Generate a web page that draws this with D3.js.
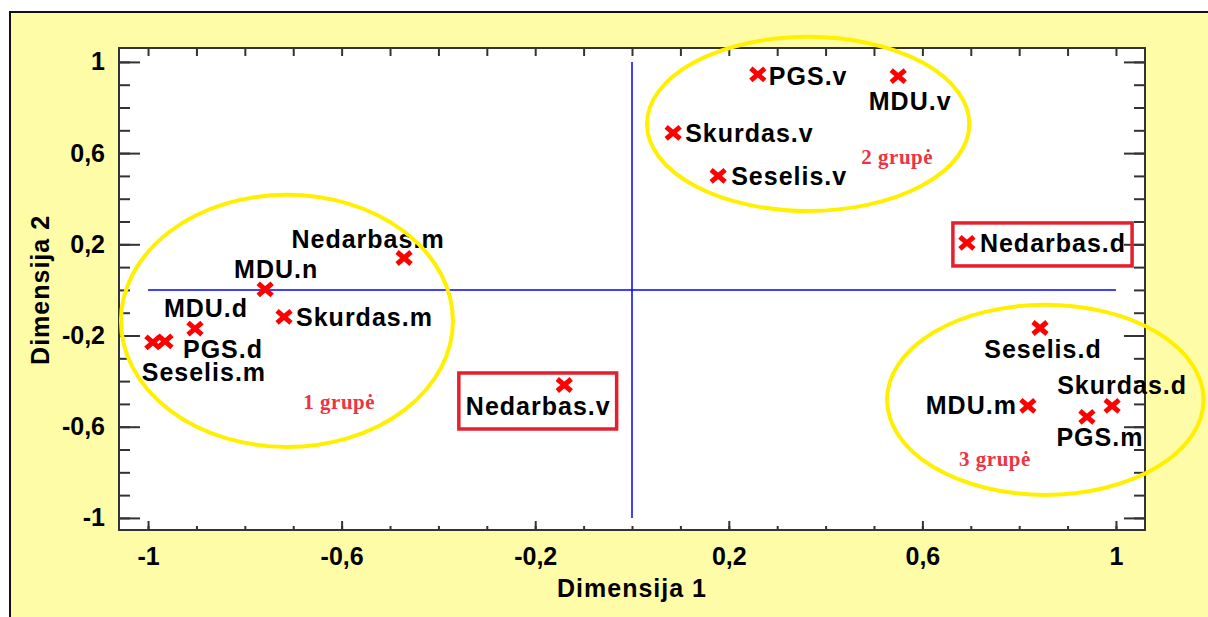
<!DOCTYPE html>
<html>
<head>
<meta charset="utf-8">
<script src="https://cdn.jsdelivr.net/npm/d3@7"></script>
<style>
  body { margin: 0; background: #fff; }
  svg { display: block; }
  .lbl { font-family: "Liberation Sans", Arial, sans-serif; font-weight: bold; font-size: 25px; letter-spacing: 1px; fill: #000; }
  .tick text { font-family: "Liberation Sans", Arial, sans-serif; font-weight: bold; font-size: 25px; fill: #000; }
  .grp { font-family: "Liberation Serif", "Times New Roman", serif; font-weight: bold; font-size: 21px; letter-spacing: 0.5px; fill: #ee3344; }
</style>
</head>
<body>
<script>
// Points (MDS coordinates)
const names = ["PGS.v", "MDU.v", "Skurdas.v", "Seselis.v", "Nedarbas.d", "Nedarbas.m", "MDU.n", "Skurdas.m",
               "MDU.d", "PGS.d", "Seselis.m", "Nedarbas.v", "Seselis.d", "MDU.m", "Skurdas.d", "PGS.m"];
const dim1 = [0.260, 0.550, 0.085, 0.178, 0.692, -0.471, -0.758, -0.719,
              -0.903, -0.965, -0.990, -0.140, 0.843, 0.818, 0.992, 0.940];
const dim2 = [0.945, 0.938, 0.689, 0.500, 0.206, 0.140, 0.002, -0.118,
              -0.170, -0.226, -0.230, -0.417, -0.167, -0.509, -0.509, -0.557];

// Groups (ellipses drawn in data units)
const groupNames = ["1 grupė", "2 grupė", "3 grupė"];
const groupCx = [-0.713, 0.364, 0.854];
const groupCy = [-0.136, 0.728, -0.482];
const groupRx = [0.343, 0.333, 0.327];
const groupRy = [0.553, 0.382, 0.417];
const groupLabelX = [-0.605, 0.548, 0.750];
const groupLabelY = [-0.522, 0.553, -0.772];

// Highlighted outliers
const boxed = ["Nedarbas.v", "Nedarbas.d"];

// Tick values
const majorTicks = [-1, -0.6, -0.2, 0.2, 0.6, 1];
const minorTicks = d3.range(-10, 11).map(d => d / 10);

// label placement relative to marker: dx, dy, anchor
const labelPlace = {
  "PGS.v": [11, 11, "start"], "MDU.v": [12, 34, "middle"], "Skurdas.v": [12, 9, "start"],
  "Seselis.v": [13, 9, "start"], "Nedarbas.d": [13, 9, "start"], "Nedarbas.m": [-36, -10, "middle"],
  "MDU.n": [11, -11, "middle"], "Skurdas.m": [12, 9, "start"], "MDU.d": [11, -12, "middle"],
  "PGS.d": [18, 17, "start"], "Seselis.m": [51, 39, "middle"], "Nedarbas.v": [-26, 30, "middle"],
  "Seselis.d": [3, 30, "middle"], "MDU.m": [-11, 8, "end"], "Skurdas.d": [10, -12, "middle"],
  "PGS.m": [13, 29, "middle"]
};

const W = 1208, H = 617;
const plot = { left: 119, top: 48, right: 1145, bottom: 530 };

const svg = d3.select("body").append("svg")
    .attr("width", W)
    .attr("height", H);

// yellow panel
svg.append("rect")
    .attr("x", 10).attr("y", 12)
    .attr("width", 1400).attr("height", 800)
    .attr("fill", "#fffca8")
    .attr("stroke", "#111").attr("stroke-width", 2);

// plot area
svg.append("rect")
    .attr("x", plot.left).attr("y", plot.top)
    .attr("width", plot.right - plot.left).attr("height", plot.bottom - plot.top)
    .attr("fill", "#fff");

const x = d3.scaleLinear().domain([-1.06, 1.06]).range([plot.left, plot.right]);
const y = d3.scaleLinear().domain([-1.053, 1.061]).range([plot.bottom, plot.top]);

const fmt = d => String(d).replace(".", ",");

function styleAxis(g) {
  g.select(".domain").remove();
  g.selectAll(".tick line").attr("stroke", "#333").attr("stroke-width", 2);
}

// left axis
svg.append("g").attr("transform", `translate(${plot.left},0)`)
    .call(d3.axisLeft(y).tickValues(minorTicks).tickSizeInner(-11).tickSizeOuter(0).tickFormat(""))
    .call(styleAxis);
svg.append("g").attr("transform", `translate(${plot.left},0)`)
    .call(d3.axisLeft(y).tickValues(majorTicks).tickSizeInner(-21).tickSizeOuter(0).tickPadding(14).tickFormat(fmt))
    .call(styleAxis);

// right axis (ticks only)
svg.append("g").attr("transform", `translate(${plot.right},0)`)
    .call(d3.axisRight(y).tickValues(minorTicks).tickSizeInner(-11).tickSizeOuter(0).tickFormat(""))
    .call(styleAxis);
svg.append("g").attr("transform", `translate(${plot.right},0)`)
    .call(d3.axisRight(y).tickValues(majorTicks).tickSizeInner(-21).tickSizeOuter(0).tickFormat(""))
    .call(styleAxis);

// bottom axis
svg.append("g").attr("transform", `translate(0,${plot.bottom})`)
    .call(d3.axisBottom(x).tickValues(minorTicks).tickSizeInner(-4).tickSizeOuter(0).tickFormat(""))
    .call(styleAxis);
svg.append("g").attr("transform", `translate(0,${plot.bottom})`)
    .call(d3.axisBottom(x).tickValues(majorTicks).tickSizeInner(-9).tickSizeOuter(0).tickPadding(17).tickFormat(fmt))
    .call(styleAxis);

// top axis (ticks only)
svg.append("g").attr("transform", `translate(0,${plot.top})`)
    .call(d3.axisTop(x).tickValues(minorTicks).tickSizeInner(-8).tickSizeOuter(0).tickFormat(""))
    .call(styleAxis);

// plot border
svg.append("rect")
    .attr("x", plot.left).attr("y", plot.top)
    .attr("width", plot.right - plot.left).attr("height", plot.bottom - plot.top)
    .attr("fill", "none").attr("stroke", "#333").attr("stroke-width", 2);

// axis titles
svg.append("text").attr("class", "lbl")
    .attr("x", x(0)).attr("y", 597)
    .attr("text-anchor", "middle")
    .text("Dimensija 1");
svg.append("text").attr("class", "lbl")
    .attr("transform", `translate(49,${y(0)}) rotate(-90)`)
    .attr("text-anchor", "middle")
    .text("Dimensija 2");

// crosshair at origin
svg.append("line")
    .attr("x1", x(-1)).attr("x2", x(1)).attr("y1", y(0)).attr("y2", y(0))
    .attr("stroke", "#0000ff").attr("stroke-width", 1.5);
svg.append("line")
    .attr("x1", x(0)).attr("x2", x(0)).attr("y1", y(1)).attr("y2", y(-1))
    .attr("stroke", "#0000ff").attr("stroke-width", 1.5);

// points
const data = names.map((n, i) => ({ name: n, d1: dim1[i], d2: dim2[i] }));

const pts = svg.selectAll(".pt")
    .data(data)
    .enter().append("g")
    .attr("class", "pt")
    .attr("transform", d => `translate(${x(d.d1)},${y(d.d2)})`);

pts.append("path")
    .attr("d", "M-7,-6L7,6M-7,6L7,-6")
    .attr("stroke", "#ff0000")
    .attr("stroke-width", 5)
    .attr("fill", "none");

pts.append("text")
    .attr("class", "lbl")
    .attr("x", d => labelPlace[d.name][0])
    .attr("y", d => labelPlace[d.name][1])
    .attr("text-anchor", d => labelPlace[d.name][2])
    .text(d => d.name);

// red boxes around outliers
pts.filter(d => boxed.includes(d.name)).each(function() {
  const b = this.getBBox();
  d3.select(this).append("rect")
      .attr("x", b.x - 7).attr("y", b.y - 6)
      .attr("width", b.width + 13).attr("height", b.height + 15)
      .attr("fill", "none")
      .attr("stroke", "#e5202e")
      .attr("stroke-width", 3.5);
});

// group ellipses
svg.selectAll(".grp-ell")
    .data(groupNames)
    .enter().append("ellipse")
    .attr("class", "grp-ell")
    .attr("cx", (d, i) => x(groupCx[i]))
    .attr("cy", (d, i) => y(groupCy[i]))
    .attr("rx", (d, i) => x(groupRx[i]) - x(0))
    .attr("ry", (d, i) => y(0) - y(groupRy[i]))
    .attr("fill", "none")
    .attr("stroke", "#fff000")
    .attr("stroke-width", 4);

svg.selectAll(".grp")
    .data(groupNames)
    .enter().append("text")
    .attr("class", "grp")
    .attr("x", (d, i) => x(groupLabelX[i]))
    .attr("y", (d, i) => y(groupLabelY[i]))
    .attr("text-anchor", "middle")
    .text(d => d);
</script>
</body>
</html>
